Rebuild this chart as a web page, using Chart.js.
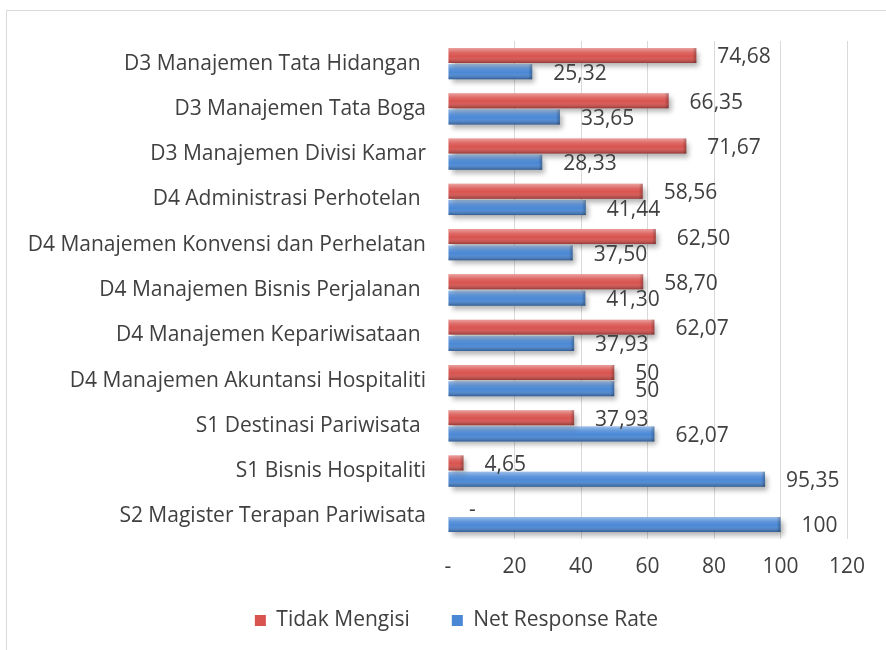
<!DOCTYPE html>
<html>
<head>
<meta charset="utf-8">
<script src="https://cdn.jsdelivr.net/npm/chart.js@4.4.1/dist/chart.umd.min.js"></script>
<style>
  html, body { margin: 0; padding: 0; background: #ffffff; }
  #wrap { position: relative; width: 886px; height: 650px; overflow: hidden; }
  #frame { position: absolute; left: 6px; top: 10px; width: 960px; height: 760px; border: 1px solid #d9d9d9; box-sizing: border-box; }
  canvas { position: absolute; left: 0; top: 0; }
</style>
</head>
<body>
<div id="wrap">
  <div id="frame"></div>
  <canvas id="c" width="886" height="650"></canvas>
</div>
<script>
const categories = [
  "D3 Manajemen Tata Hidangan ",
  "D3 Manajemen Tata Boga",
  "D3 Manajemen Divisi Kamar",
  "D4 Administrasi Perhotelan ",
  "D4 Manajemen Konvensi dan Perhelatan",
  "D4 Manajemen Bisnis Perjalanan ",
  "D4 Manajemen Kepariwisataan ",
  "D4 Manajemen Akuntansi Hospitaliti",
  "S1 Destinasi Pariwisata ",
  "S1 Bisnis Hospitaliti",
  "S2 Magister Terapan Pariwisata"
];
const tidakMengisi = [74.68, 66.35, 71.67, 58.56, 62.50, 58.70, 62.07, 50, 37.93, 4.65, 0];
const netResponseRate = [25.32, 33.65, 28.33, 41.44, 37.50, 41.30, 37.93, 50, 62.07, 95.35, 100];
const xMin = 0, xMax = 120, xStep = 20;

const FONT = "'Open Sans', 'DejaVu Sans', sans-serif";
const TEXT = '#404040';

function fmt(v) {
  if (v === 0) return '-';
  if (Number.isInteger(v)) return String(v);
  return v.toFixed(2).replace('.', ',');
}

const bevelPlugin = {
  id: 'bevel',
  afterLayout(chart) {
    const lg = chart.legend;
    if (lg) {
      lg.left += 31; lg.right += 31;
      lg.top -= 9; lg.bottom -= 9;
    }
  },
  beforeDatasetsDraw(chart) {
    const ctx = chart.ctx;
    ctx.save();
    ctx.shadowColor = 'rgba(0,0,0,0.3)';
    ctx.shadowBlur = 5;
    ctx.shadowOffsetX = 3;
    ctx.shadowOffsetY = 4;
  },
  afterDatasetsDraw(chart) {
    const ctx = chart.ctx;
    ctx.restore();
    ctx.save();
    chart.data.datasets.forEach((ds, di) => {
      const meta = chart.getDatasetMeta(di);
      meta.data.forEach((el) => {
        const p = el.getProps(['x', 'y', 'base', 'height'], true);
        const w = p.x - p.base;
        if (w <= 0.5) return;
        const top = p.y - p.height / 2;
        const g = ctx.createLinearGradient(0, top, 0, top + p.height);
        g.addColorStop(0, 'rgba(255,255,255,0.45)');
        g.addColorStop(0.3, 'rgba(255,255,255,0.12)');
        g.addColorStop(0.55, 'rgba(255,255,255,0)');
        g.addColorStop(1, 'rgba(0,0,0,0.32)');
        ctx.fillStyle = g;
        ctx.fillRect(p.base, top, w, p.height);
        const cw = Math.min(4, w);
        const g2 = ctx.createLinearGradient(p.x - cw, 0, p.x, 0);
        g2.addColorStop(0, 'rgba(0,0,0,0)');
        g2.addColorStop(1, 'rgba(0,0,0,0.25)');
        ctx.fillStyle = g2;
        ctx.fillRect(p.x - cw, top, cw, p.height);
      });
    });
    ctx.restore();
    ctx.save();
    ctx.font = '21px ' + FONT;
    ctx.fillStyle = TEXT;
    ctx.textAlign = 'left';
    ctx.textBaseline = 'middle';
    chart.data.datasets.forEach((ds, di) => {
      const meta = chart.getDatasetMeta(di);
      meta.data.forEach((el, i) => {
        const p = el.getProps(['x', 'y'], true);
        ctx.fillText(fmt(ds.data[i]), p.x + 21, p.y + 2);
      });
    });
    ctx.restore();
  }
};

new Chart(document.getElementById('c'), {
  type: 'bar',
  data: {
    labels: categories,
    datasets: [
      {
        label: 'Tidak Mengisi',
        data: tidakMengisi,
        backgroundColor: '#D9534F',
        borderWidth: 0,
        categoryPercentage: 0.72,
        barPercentage: 0.92
      },
      {
        label: 'Net Response Rate',
        data: netResponseRate,
        backgroundColor: '#4A88D6',
        borderWidth: 0,
        categoryPercentage: 0.72,
        barPercentage: 0.92
      }
    ]
  },
  options: {
    indexAxis: 'y',
    responsive: false,
    animation: false,
    devicePixelRatio: 1,
    layout: { padding: { top: 41, right: 39, bottom: 0, left: 4 } },
    scales: {
      x: {
        min: xMin,
        max: xMax,
        border: { display: false },
        grid: {
          color: (c) => (c.tick && c.tick.value === 0) ? 'rgba(0,0,0,0)' : '#d9d9d9',
          lineWidth: 1,
          drawTicks: false
        },
        ticks: {
          stepSize: xStep,
          padding: 15,
          color: TEXT,
          font: { family: FONT, size: 21 },
          callback: (v) => v === 0 ? '-' : String(v)
        },
        afterFit: (s) => { s.height = 38; }
      },
      y: {
        border: { display: false },
        grid: { display: false, drawTicks: false },
        ticks: {
          padding: 22,
          color: TEXT,
          autoSkip: false,
          font: { family: FONT, size: 21 }
        },
        afterFit: (s) => { s.width = 444; }
      }
    },
    plugins: {
      legend: {
        position: 'bottom',
        labels: {
          boxWidth: 11,
          boxHeight: 11,
          padding: 42,
          color: TEXT,
          font: { family: FONT, size: 21 }
        }
      },
      tooltip: { enabled: false }
    }
  },
  plugins: [bevelPlugin]
});
</script>
</body>
</html>
